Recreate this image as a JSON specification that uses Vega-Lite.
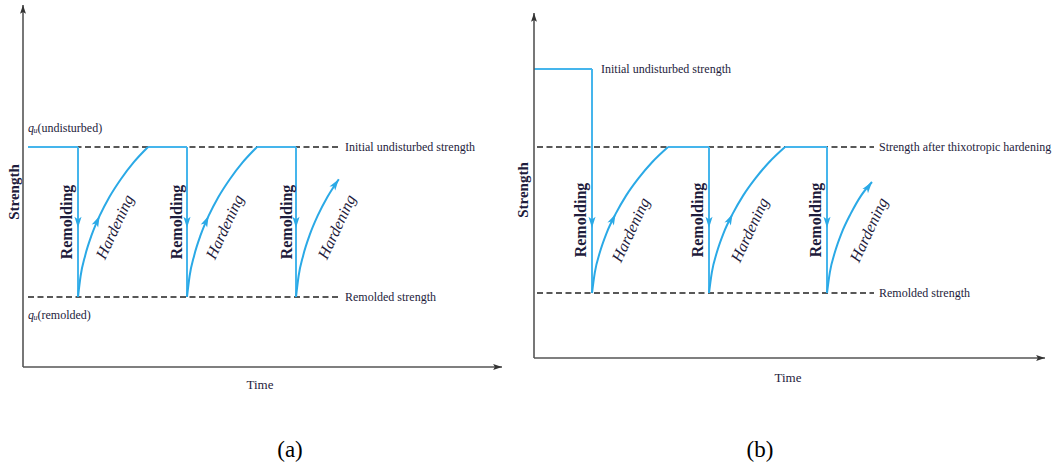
{
  "$schema": "https://vega.github.io/schema/vega-lite/v6.json",
  "padding": 0,
  "spacing": 0,
  "bounds": "flush",
  "background": "white",
  "config": {"view": {"stroke": null}, "text": {"font": "Liberation Serif", "color": "#1e1c3c", "baseline": "middle"}},
  "data": {"values": [
    {"panel": "a", "role": "dash", "t": 0.5, "s": 22, "t2": 31.7, "s2": 22},
    {"panel": "a", "role": "dash", "t": 0.5, "s": 7, "t2": 31.7, "s2": 7},
    {"panel": "a", "role": "blue", "t": 0.5, "s": 22, "t2": 5.5, "s2": 22},
    {"panel": "a", "role": "blue", "t": 5.5, "s": 22, "t2": 5.5, "s2": 7},
    {"panel": "a", "role": "blue", "t": 12.5, "s": 22, "t2": 16.4, "s2": 22},
    {"panel": "a", "role": "blue", "t": 16.4, "s": 22, "t2": 16.4, "s2": 7},
    {"panel": "a", "role": "blue", "t": 23.4, "s": 22, "t2": 27.3, "s2": 22},
    {"panel": "a", "role": "blue", "t": 27.3, "s": 22, "t2": 27.3, "s2": 7},
    {"panel": "a", "role": "axis", "t": 0, "s": 0, "t2": 47.9, "s2": 0},
    {"panel": "a", "role": "axis", "t": 0, "s": 0, "t2": 0, "s2": 36.2},
    {"panel": "a", "role": "curve", "seg": 1, "t": 5.5, "s": 7},
    {"panel": "a", "role": "curve", "seg": 1, "t": 5.76, "s": 9.1},
    {"panel": "a", "role": "curve", "seg": 1, "t": 6.22, "s": 11.16},
    {"panel": "a", "role": "curve", "seg": 1, "t": 6.86, "s": 13.18},
    {"panel": "a", "role": "curve", "seg": 1, "t": 7.67, "s": 15.13},
    {"panel": "a", "role": "curve", "seg": 1, "t": 8.64, "s": 17.0},
    {"panel": "a", "role": "curve", "seg": 1, "t": 9.78, "s": 18.78},
    {"panel": "a", "role": "curve", "seg": 1, "t": 11.06, "s": 20.46},
    {"panel": "a", "role": "curve", "seg": 1, "t": 12.5, "s": 22},
    {"panel": "a", "role": "curve", "seg": 2, "t": 16.4, "s": 7},
    {"panel": "a", "role": "curve", "seg": 2, "t": 16.66, "s": 9.1},
    {"panel": "a", "role": "curve", "seg": 2, "t": 17.12, "s": 11.16},
    {"panel": "a", "role": "curve", "seg": 2, "t": 17.76, "s": 13.18},
    {"panel": "a", "role": "curve", "seg": 2, "t": 18.57, "s": 15.13},
    {"panel": "a", "role": "curve", "seg": 2, "t": 19.54, "s": 17.0},
    {"panel": "a", "role": "curve", "seg": 2, "t": 20.68, "s": 18.78},
    {"panel": "a", "role": "curve", "seg": 2, "t": 21.96, "s": 20.46},
    {"panel": "a", "role": "curve", "seg": 2, "t": 23.4, "s": 22},
    {"panel": "a", "role": "curve", "seg": 3, "t": 27.3, "s": 7},
    {"panel": "a", "role": "curve", "seg": 3, "t": 27.56, "s": 9.1},
    {"panel": "a", "role": "curve", "seg": 3, "t": 28.02, "s": 11.16},
    {"panel": "a", "role": "curve", "seg": 3, "t": 28.66, "s": 13.18},
    {"panel": "a", "role": "curve", "seg": 3, "t": 29.47, "s": 15.13},
    {"panel": "a", "role": "curve", "seg": 3, "t": 30.44, "s": 17.0},
    {"panel": "a", "role": "curve", "seg": 3, "t": 31.58, "s": 18.78},
    {"panel": "a", "role": "arrowDown", "t": 5.5, "s": 13.9},
    {"panel": "a", "role": "arrowDown", "t": 16.4, "s": 13.9},
    {"panel": "a", "role": "arrowDown", "t": 27.3, "s": 13.9},
    {"panel": "a", "role": "arrowHard", "t": 7.67, "s": 15.13},
    {"panel": "a", "role": "arrowHard", "t": 18.57, "s": 15.13},
    {"panel": "a", "role": "arrowEnd", "t": 31.58, "s": 18.78},
    {"panel": "a", "role": "axisUp", "t": 0, "s": 36.2},
    {"panel": "a", "role": "axisRight", "t": 47.9, "s": 0},
    {"panel": "a", "role": "note", "label": "Initial undisturbed strength", "t": 32.2, "s": 22},
    {"panel": "a", "role": "note", "label": "Remolded strength", "t": 32.2, "s": 7},
    {"panel": "a", "role": "q", "label": "q", "t": 0.5, "s": 23.9},
    {"panel": "a", "role": "qsub", "label": "u", "t": 0.5, "s": 23.9},
    {"panel": "a", "role": "qrest", "label": "(undisturbed)", "t": 0.5, "s": 23.9},
    {"panel": "a", "role": "q", "label": "q", "t": 0.5, "s": 5.2},
    {"panel": "a", "role": "qsub", "label": "u", "t": 0.5, "s": 5.2},
    {"panel": "a", "role": "qrest", "label": "(remolded)", "t": 0.5, "s": 5.2},
    {"panel": "a", "role": "remold", "label": "Remolding", "t": 4.4, "s": 14.5},
    {"panel": "a", "role": "remold", "label": "Remolding", "t": 15.4, "s": 14.5},
    {"panel": "a", "role": "remold", "label": "Remolding", "t": 26.4, "s": 14.5},
    {"panel": "a", "role": "harden", "label": "Hardening", "t": 9.2, "s": 14.0},
    {"panel": "a", "role": "harden", "label": "Hardening", "t": 20.2, "s": 14.0},
    {"panel": "a", "role": "harden", "label": "Hardening", "t": 31.4, "s": 14.0},
    {"panel": "a", "role": "ytitle", "label": "Strength", "t": -0.9, "s": 17.5},
    {"panel": "a", "role": "xtitle", "label": "Time", "t": 23.7, "s": -1.8},
    {"panel": "a", "role": "caption", "label": "(a)", "t": 26.7, "s": -8.3},

    {"panel": "b", "role": "dash", "t": 0.3, "s": 21.1, "t2": 34.0, "s2": 21.1},
    {"panel": "b", "role": "dash", "t": 0.3, "s": 6.5, "t2": 34.0, "s2": 6.5},
    {"panel": "b", "role": "blue", "t": 0, "s": 28.9, "t2": 5.8, "s2": 28.9},
    {"panel": "b", "role": "blue", "t": 5.8, "s": 28.9, "t2": 5.8, "s2": 6.5},
    {"panel": "b", "role": "blue", "t": 13.4, "s": 21.1, "t2": 17.5, "s2": 21.1},
    {"panel": "b", "role": "blue", "t": 17.5, "s": 21.1, "t2": 17.5, "s2": 6.5},
    {"panel": "b", "role": "blue", "t": 25.1, "s": 21.1, "t2": 29.3, "s2": 21.1},
    {"panel": "b", "role": "blue", "t": 29.3, "s": 21.1, "t2": 29.3, "s2": 6.5},
    {"panel": "b", "role": "axis", "t": 0, "s": 0, "t2": 51.1, "s2": 0},
    {"panel": "b", "role": "axis", "t": 0, "s": 0, "t2": 0, "s2": 34.5},
    {"panel": "b", "role": "curve", "seg": 1, "t": 5.8, "s": 6.5},
    {"panel": "b", "role": "curve", "seg": 1, "t": 6.08, "s": 8.54},
    {"panel": "b", "role": "curve", "seg": 1, "t": 6.58, "s": 10.54},
    {"panel": "b", "role": "curve", "seg": 1, "t": 7.27, "s": 12.52},
    {"panel": "b", "role": "curve", "seg": 1, "t": 8.16, "s": 14.41},
    {"panel": "b", "role": "curve", "seg": 1, "t": 9.21, "s": 16.24},
    {"panel": "b", "role": "curve", "seg": 1, "t": 10.44, "s": 17.96},
    {"panel": "b", "role": "curve", "seg": 1, "t": 11.83, "s": 19.6},
    {"panel": "b", "role": "curve", "seg": 1, "t": 13.4, "s": 21.1},
    {"panel": "b", "role": "curve", "seg": 2, "t": 17.5, "s": 6.5},
    {"panel": "b", "role": "curve", "seg": 2, "t": 17.78, "s": 8.54},
    {"panel": "b", "role": "curve", "seg": 2, "t": 18.28, "s": 10.54},
    {"panel": "b", "role": "curve", "seg": 2, "t": 18.97, "s": 12.52},
    {"panel": "b", "role": "curve", "seg": 2, "t": 19.86, "s": 14.41},
    {"panel": "b", "role": "curve", "seg": 2, "t": 20.91, "s": 16.24},
    {"panel": "b", "role": "curve", "seg": 2, "t": 22.14, "s": 17.96},
    {"panel": "b", "role": "curve", "seg": 2, "t": 23.53, "s": 19.6},
    {"panel": "b", "role": "curve", "seg": 2, "t": 25.1, "s": 21.1},
    {"panel": "b", "role": "curve", "seg": 3, "t": 29.3, "s": 6.5},
    {"panel": "b", "role": "curve", "seg": 3, "t": 29.58, "s": 8.54},
    {"panel": "b", "role": "curve", "seg": 3, "t": 30.08, "s": 10.54},
    {"panel": "b", "role": "curve", "seg": 3, "t": 30.77, "s": 12.52},
    {"panel": "b", "role": "curve", "seg": 3, "t": 31.66, "s": 14.41},
    {"panel": "b", "role": "curve", "seg": 3, "t": 32.71, "s": 16.24},
    {"panel": "b", "role": "curve", "seg": 3, "t": 33.8, "s": 17.6},
    {"panel": "b", "role": "arrowDown", "t": 5.8, "s": 13.0},
    {"panel": "b", "role": "arrowDown", "t": 17.5, "s": 13.0},
    {"panel": "b", "role": "arrowDown", "t": 29.3, "s": 13.0},
    {"panel": "b", "role": "arrowHard", "t": 8.16, "s": 14.41},
    {"panel": "b", "role": "arrowHard", "t": 19.86, "s": 14.41},
    {"panel": "b", "role": "arrowEnd", "t": 33.8, "s": 17.6},
    {"panel": "b", "role": "axisUp", "t": 0, "s": 34.5},
    {"panel": "b", "role": "axisRight", "t": 51.1, "s": 0},
    {"panel": "b", "role": "note", "label": "Initial undisturbed strength", "t": 6.7, "s": 28.9},
    {"panel": "b", "role": "note", "label": "Strength after thixotropic hardening", "t": 34.5, "s": 21.1},
    {"panel": "b", "role": "note", "label": "Remolded strength", "t": 34.5, "s": 6.5},
    {"panel": "b", "role": "remold", "label": "Remolding", "t": 4.7, "s": 13.8},
    {"panel": "b", "role": "remold", "label": "Remolding", "t": 16.4, "s": 13.8},
    {"panel": "b", "role": "remold", "label": "Remolding", "t": 28.2, "s": 13.8},
    {"panel": "b", "role": "harden", "label": "Hardening", "t": 9.7, "s": 12.8},
    {"panel": "b", "role": "harden", "label": "Hardening", "t": 21.6, "s": 12.8},
    {"panel": "b", "role": "harden", "label": "Hardening", "t": 33.5, "s": 12.8},
    {"panel": "b", "role": "ytitle", "label": "Strength", "t": -1.1, "s": 16.8},
    {"panel": "b", "role": "xtitle", "label": "Time", "t": 25.4, "s": -2.0},
    {"panel": "b", "role": "caption", "label": "(b)", "t": 22.6, "s": -9.2}
  ]},
  "hconcat": [
    {
      "width": 528, "height": 468,
      "transform": [{"filter": "datum.panel == 'a'"}],
      "encoding": {
        "x": {"field": "t", "type": "quantitative", "scale": {"domain": [-2.3, 50.5], "nice": false, "zero": false}, "axis": null},
        "y": {"field": "s", "type": "quantitative", "scale": {"domain": [-10.1, 36.7], "nice": false, "zero": false}, "axis": null}
      },
      "layer": [
        {"transform": [{"filter": "datum.role == 'dash'"}], "mark": {"type": "rule", "color": "#222222", "strokeWidth": 1.3, "strokeDash": [6, 3.5]}, "encoding": {"x2": {"field": "t2"}, "y2": {"field": "s2"}}},
        {"transform": [{"filter": "datum.role == 'blue'"}], "mark": {"type": "rule", "color": "#45b5ec", "strokeWidth": 2}, "encoding": {"x2": {"field": "t2"}, "y2": {"field": "s2"}}},
        {"transform": [{"filter": "datum.role == 'axis'"}], "mark": {"type": "rule", "color": "#555555", "strokeWidth": 1.6}, "encoding": {"x2": {"field": "t2"}, "y2": {"field": "s2"}}},
        {"transform": [{"filter": "datum.role == 'curve'"}], "mark": {"type": "line", "color": "#2aa9e6", "strokeWidth": 2, "interpolate": "monotone"}, "encoding": {"detail": {"field": "seg"}, "order": {"field": "t"}}},
        {"transform": [{"filter": "datum.role == 'arrowDown'"}], "mark": {"type": "point", "filled": true, "opacity": 1, "color": "#2aa9e6", "size": 200, "angle": 180, "shape": "M0,0L0.5,1.6L0,1.2L-0.5,1.6Z"}},
        {"transform": [{"filter": "datum.role == 'arrowHard'"}], "mark": {"type": "point", "filled": true, "opacity": 1, "color": "#2aa9e6", "size": 200, "angle": 25, "shape": "M0,0L0.5,1.6L0,1.2L-0.5,1.6Z"}},
        {"transform": [{"filter": "datum.role == 'arrowEnd'"}], "mark": {"type": "point", "filled": true, "opacity": 1, "color": "#2aa9e6", "size": 200, "angle": 35, "shape": "M0,0L0.5,1.6L0,1.2L-0.5,1.6Z"}},
        {"transform": [{"filter": "datum.role == 'axisUp'"}], "mark": {"type": "point", "filled": true, "opacity": 1, "color": "#333333", "size": 140, "angle": 0, "shape": "M0,0L0.5,1.5L0,1.2L-0.5,1.5Z"}},
        {"transform": [{"filter": "datum.role == 'axisRight'"}], "mark": {"type": "point", "filled": true, "opacity": 1, "color": "#333333", "size": 140, "angle": 90, "shape": "M0,0L0.5,1.5L0,1.2L-0.5,1.5Z"}},
        {"transform": [{"filter": "datum.role == 'note'"}], "mark": {"type": "text", "align": "left", "fontSize": 12}, "encoding": {"text": {"field": "label"}}},
        {"transform": [{"filter": "datum.role == 'q'"}], "mark": {"type": "text", "align": "left", "fontSize": 12, "fontStyle": "italic"}, "encoding": {"text": {"field": "label"}}},
        {"transform": [{"filter": "datum.role == 'qsub'"}], "mark": {"type": "text", "align": "left", "fontSize": 8, "fontStyle": "italic", "dx": 5.5, "dy": 3}, "encoding": {"text": {"field": "label"}}},
        {"transform": [{"filter": "datum.role == 'qrest'"}], "mark": {"type": "text", "align": "left", "fontSize": 12, "dx": 9.5}, "encoding": {"text": {"field": "label"}}},
        {"transform": [{"filter": "datum.role == 'remold'"}], "mark": {"type": "text", "align": "center", "fontSize": 16, "fontWeight": "bold", "angle": 270}, "encoding": {"text": {"field": "label"}}},
        {"transform": [{"filter": "datum.role == 'harden'"}], "mark": {"type": "text", "align": "center", "fontSize": 16, "fontStyle": "italic", "angle": 295}, "encoding": {"text": {"field": "label"}}},
        {"transform": [{"filter": "datum.role == 'ytitle'"}], "mark": {"type": "text", "align": "center", "fontSize": 15, "fontWeight": "bold", "angle": 270}, "encoding": {"text": {"field": "label"}}},
        {"transform": [{"filter": "datum.role == 'xtitle'"}], "mark": {"type": "text", "align": "center", "fontSize": 13}, "encoding": {"text": {"field": "label"}}},
        {"transform": [{"filter": "datum.role == 'caption'"}], "mark": {"type": "text", "align": "center", "fontSize": 23, "color": "#000000"}, "encoding": {"text": {"field": "label"}}}
      ]
    },
    {
      "width": 528, "height": 468,
      "transform": [{"filter": "datum.panel == 'b'"}],
      "encoding": {
        "x": {"field": "t", "type": "quantitative", "scale": {"domain": [-0.6, 52.2], "nice": false, "zero": false}, "axis": null},
        "y": {"field": "s", "type": "quantitative", "scale": {"domain": [-11.0, 35.8], "nice": false, "zero": false}, "axis": null}
      },
      "layer": [
        {"transform": [{"filter": "datum.role == 'dash'"}], "mark": {"type": "rule", "color": "#222222", "strokeWidth": 1.3, "strokeDash": [6, 3.5]}, "encoding": {"x2": {"field": "t2"}, "y2": {"field": "s2"}}},
        {"transform": [{"filter": "datum.role == 'blue'"}], "mark": {"type": "rule", "color": "#45b5ec", "strokeWidth": 2}, "encoding": {"x2": {"field": "t2"}, "y2": {"field": "s2"}}},
        {"transform": [{"filter": "datum.role == 'axis'"}], "mark": {"type": "rule", "color": "#555555", "strokeWidth": 1.6}, "encoding": {"x2": {"field": "t2"}, "y2": {"field": "s2"}}},
        {"transform": [{"filter": "datum.role == 'curve'"}], "mark": {"type": "line", "color": "#2aa9e6", "strokeWidth": 2, "interpolate": "monotone"}, "encoding": {"detail": {"field": "seg"}, "order": {"field": "t"}}},
        {"transform": [{"filter": "datum.role == 'arrowDown'"}], "mark": {"type": "point", "filled": true, "opacity": 1, "color": "#2aa9e6", "size": 200, "angle": 180, "shape": "M0,0L0.5,1.6L0,1.2L-0.5,1.6Z"}},
        {"transform": [{"filter": "datum.role == 'arrowHard'"}], "mark": {"type": "point", "filled": true, "opacity": 1, "color": "#2aa9e6", "size": 200, "angle": 26, "shape": "M0,0L0.5,1.6L0,1.2L-0.5,1.6Z"}},
        {"transform": [{"filter": "datum.role == 'arrowEnd'"}], "mark": {"type": "point", "filled": true, "opacity": 1, "color": "#2aa9e6", "size": 200, "angle": 37, "shape": "M0,0L0.5,1.6L0,1.2L-0.5,1.6Z"}},
        {"transform": [{"filter": "datum.role == 'axisUp'"}], "mark": {"type": "point", "filled": true, "opacity": 1, "color": "#333333", "size": 140, "angle": 0, "shape": "M0,0L0.5,1.5L0,1.2L-0.5,1.5Z"}},
        {"transform": [{"filter": "datum.role == 'axisRight'"}], "mark": {"type": "point", "filled": true, "opacity": 1, "color": "#333333", "size": 140, "angle": 90, "shape": "M0,0L0.5,1.5L0,1.2L-0.5,1.5Z"}},
        {"transform": [{"filter": "datum.role == 'note'"}], "mark": {"type": "text", "align": "left", "fontSize": 12}, "encoding": {"text": {"field": "label"}}},
        {"transform": [{"filter": "datum.role == 'remold'"}], "mark": {"type": "text", "align": "center", "fontSize": 16, "fontWeight": "bold", "angle": 270}, "encoding": {"text": {"field": "label"}}},
        {"transform": [{"filter": "datum.role == 'harden'"}], "mark": {"type": "text", "align": "center", "fontSize": 16, "fontStyle": "italic", "angle": 295}, "encoding": {"text": {"field": "label"}}},
        {"transform": [{"filter": "datum.role == 'ytitle'"}], "mark": {"type": "text", "align": "center", "fontSize": 15, "fontWeight": "bold", "angle": 270}, "encoding": {"text": {"field": "label"}}},
        {"transform": [{"filter": "datum.role == 'xtitle'"}], "mark": {"type": "text", "align": "center", "fontSize": 13}, "encoding": {"text": {"field": "label"}}},
        {"transform": [{"filter": "datum.role == 'caption'"}], "mark": {"type": "text", "align": "center", "fontSize": 23, "color": "#000000"}, "encoding": {"text": {"field": "label"}}}
      ]
    }
  ]
}
